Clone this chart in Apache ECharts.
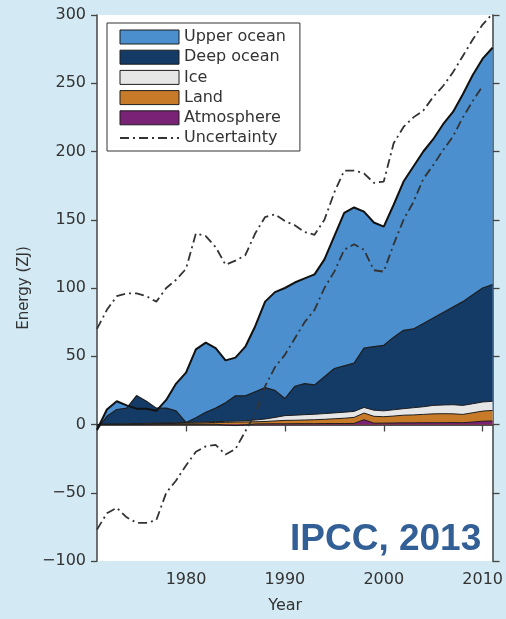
<!DOCTYPE html>
<html>
<head>
<meta charset="utf-8">
<script src="https://cdn.jsdelivr.net/npm/echarts@6/dist/echarts.min.js"></script>
<style>
  html, body { margin: 0; padding: 0; background: #d3e9f3; }
  #chart { width: 506px; height: 619px; }
</style>
</head>
<body>
<div id="chart"></div>
<script>
// Earth's energy inventory, 1971-2011 (ZJ, relative to 1971)
const years = [1971, 1972, 1973, 1974, 1975, 1976, 1977, 1978, 1979, 1980,
  1981, 1982, 1983, 1984, 1985, 1986, 1987, 1988, 1989, 1990,
  1991, 1992, 1993, 1994, 1995, 1996, 1997, 1998, 1999, 2000,
  2001, 2002, 2003, 2004, 2005, 2006, 2007, 2008, 2009, 2010, 2011];

const atmosphere = [0, 0.1, 0.1, 0.1, 0.1, 0.1, 0.2, 0.2, 0.2, 0.2,
  0.2, 0.2, 0.2, -0.5, -0.8, -0.3, 0.4, 0.5, 0.5, 0.5,
  0.6, 0.6, 0.6, 0.7, 0.7, 0.7, 0.8, 3.5, 1.0, 1.0,
  1.1, 1.2, 1.2, 1.3, 1.3, 1.3, 1.4, 1.3, 1.8, 2.4, 2.6];

const land = [0, 0, 0.1, 0.2, 0.3, 0.4, 0.4, 0.5, 0.6, 0.8,
  0.9, 1.1, 1.3, 2.1, 2.6, 2.2, 1.6, 1.7, 2.1, 2.5,
  2.5, 2.7, 2.9, 3.1, 3.5, 3.9, 4.4, 4.9, 5.0, 4.7,
  5.1, 5.6, 5.8, 6.1, 6.5, 6.6, 6.4, 6.1, 6.8, 7.4, 7.7];

const ice = [0, 0.1, 0.1, 0.2, 0.3, 0.3, 0.4, 0.4, 0.5, 0.5,
  0.6, 0.6, 0.6, 0.7, 0.7, 0.9, 1.3, 1.8, 2.6, 3.5,
  3.7, 3.9, 4.0, 4.2, 4.3, 4.4, 4.4, 4.1, 4.5, 4.3,
  4.6, 4.8, 5.3, 5.6, 6.2, 6.4, 6.7, 6.6, 6.6, 6.7, 6.7];

const deepOcean = [-4, 5.8, 10.7, 11.5, 20.5, 16.2, 11, 10.9, 8.7, 0,
  3.3, 7.1, 9.9, 13.7, 18.5, 18.2, 20.7, 23, 19.8, 12.5,
  21.2, 22.8, 21.5, 27, 32.5, 34, 35.4, 43.5, 46.5, 48,
  53.2, 57.4, 57.7, 61, 64, 67.7, 71.5, 76, 79.8, 83.5, 85.5];

const upperOcean = [0, 5, 6, 2, -9.6, -5.4, -2, 6, 20, 36.5,
  50, 51, 44, 31, 28, 36, 48, 63, 72, 81,
  76, 77, 81, 86, 97, 112, 114, 100, 91, 87,
  97, 109, 119, 126, 131, 138, 143, 152, 161, 168, 173.5];

const uncertaintyHigh = [70, 84, 94, 96, 96, 94, 90, 100, 106, 114,
  140, 138, 130, 117, 120, 124, 140, 152, 154, 149,
  146, 141, 139, 150, 170, 186, 186, 184, 177, 178,
  206, 218, 225, 230, 240, 248, 258, 270, 282, 293, 301];

const uncertaintyLow = [-77, -65, -61, -68, -72, -72, -70, -50, -41, -30,
  -20, -16, -15, -22, -18, -5, 8, 28, 42, 51,
  63, 75, 84, 100, 112, 128, 132, 128, 113, 112,
  132, 150, 163, 180, 190, 201, 211, 225, 237, 248, null];

const xTicks = [1980, 1990, 2000, 2010];

const FONT = "'DejaVu Sans', sans-serif";
const EDGE = '#1e1e1e';
const AXIS = '#444';

// Running totals of the components, bottom (atmosphere) to top (upper ocean).
// Each band is painted from zero up to its running total, topmost band first,
// so every lower band is laid over the one above it.
const layers = [atmosphere, land, ice, deepOcean, upperOcean];
const running = [];
layers.reduce((acc, comp, k) => {
  const next = acc.map((v, i) => v + comp[i]);
  running[k] = next;
  return next;
}, years.map(() => 0));
const pairs = arr => years.map((y, i) => [y, arr[i]]);

function band(name, k, fill, z, lineWidth) {
  return {
    name, type: 'line', data: pairs(running[k]), symbol: 'none', z,
    color: fill,
    lineStyle: lineWidth ? { color: EDGE, width: lineWidth } : { width: 0 },
    areaStyle: { color: fill, opacity: 1, origin: 0 },
    emphasis: { disabled: true }
  };
}

const dashDot = [9, 4, 2, 4];
const axisLine = { show: true, lineStyle: { color: AXIS, width: 1.5 } };
const tickStyle = { color: AXIS, width: 1.3 };

const chart = echarts.init(document.getElementById('chart'), null, { renderer: 'canvas' });
chart.setOption({
  backgroundColor: '#d3e9f3',
  animation: false,
  grid: { left: 97, right: 9, top: 15, bottom: 51, show: true, backgroundColor: '#ffffff', borderWidth: 0 },
  legend: {
    left: 107, top: 23, orient: 'vertical',
    backgroundColor: '#ffffff', borderColor: '#333', borderWidth: 1,
    padding: [6, 14, 5, 12], itemGap: 4.2, itemWidth: 59, itemHeight: 14,
    textStyle: { fontFamily: FONT, fontSize: 16, color: '#333' },
    itemStyle: { borderColor: EDGE, borderWidth: 1 },
    data: [
      { name: 'Upper ocean', icon: 'rect' },
      { name: 'Deep ocean', icon: 'rect' },
      { name: 'Ice', icon: 'rect' },
      { name: 'Land', icon: 'rect' },
      { name: 'Atmosphere', icon: 'rect' },
      { name: 'Uncertainty', itemStyle: { color: 'rgba(0,0,0,0)', borderWidth: 0, opacity: 0 } }
    ]
  },
  xAxis: [{
    type: 'value', min: 1971, max: 2011, position: 'bottom',
    name: 'Year', nameLocation: 'middle', nameGap: 37,
    nameTextStyle: { fontFamily: FONT, fontSize: 16, color: '#333', padding: [0, 19, 0, 0] },
    axisLine,
    axisTick: { show: true, length: 7, customValues: xTicks, lineStyle: tickStyle },
    axisLabel: {
      customValues: xTicks, margin: 11, fontFamily: FONT, fontSize: 16, color: '#333',
      formatter: v => String(v)
    },
    splitLine: { show: false }
  }, {
    type: 'value', min: 1971, max: 2011, position: 'top',
    axisLine,
    axisTick: { show: true, length: 7, customValues: xTicks, lineStyle: tickStyle },
    axisLabel: { show: false },
    splitLine: { show: false }
  }],
  yAxis: [{
    type: 'value', min: -100, max: 300, interval: 50, position: 'left',
    name: 'Energy (ZJ)', nameLocation: 'middle', nameGap: 65,
    nameTextStyle: { fontFamily: FONT, fontSize: 15, color: '#333' },
    axisLine,
    axisTick: { show: true, length: 6, lineStyle: tickStyle },
    axisLabel: {
      margin: 11, fontFamily: FONT, fontSize: 16, color: '#333',
      formatter: v => (v < 0 ? '\u2212' + Math.abs(v) : String(v))
    },
    splitLine: { show: false }
  }, {
    type: 'value', min: -100, max: 300, interval: 50, position: 'right',
    axisLine,
    axisTick: { show: true, length: 7, lineStyle: tickStyle },
    axisLabel: { show: false },
    splitLine: { show: false }
  }],
  series: [
    band('Upper ocean', 4, '#4b8fcf', 2, 0),
    band('Deep ocean', 3, '#143a66', 3, 1.2),
    band('Ice', 2, '#e6e6e6', 4, 1),
    band('Land', 1, '#c77b29', 5, 1),
    band('Atmosphere', 0, '#7a2276', 6, 1),
    {
      name: 'Upper ocean outline', type: 'line', data: pairs(running[4]), symbol: 'none', z: 7,
      lineStyle: { color: '#111', width: 2 },
      emphasis: { disabled: true },
      markLine: {
        silent: true, symbol: 'none', label: { show: false },
        lineStyle: { color: '#222', width: 1, type: 'solid' },
        data: [{ yAxis: 0 }]
      }
    },
    {
      name: 'Uncertainty', type: 'line', data: pairs(uncertaintyHigh), symbol: 'none', z: 8,
      color: '#333',
      lineStyle: { color: '#333', width: 1.8, type: dashDot },
      emphasis: { disabled: true }
    },
    {
      name: 'Uncertainty', type: 'line', data: pairs(uncertaintyLow), symbol: 'none', z: 8,
      color: '#333',
      lineStyle: { color: '#333', width: 1.8, type: dashDot },
      emphasis: { disabled: true }
    }
  ],
  graphic: [{
    type: 'text', left: 290, top: 521, z: 10,
    style: { text: 'IPCC, 2013', font: "bold 37px 'Liberation Sans', Arial, sans-serif", fill: '#325f96' }
  }]
});
</script>
</body>
</html>
